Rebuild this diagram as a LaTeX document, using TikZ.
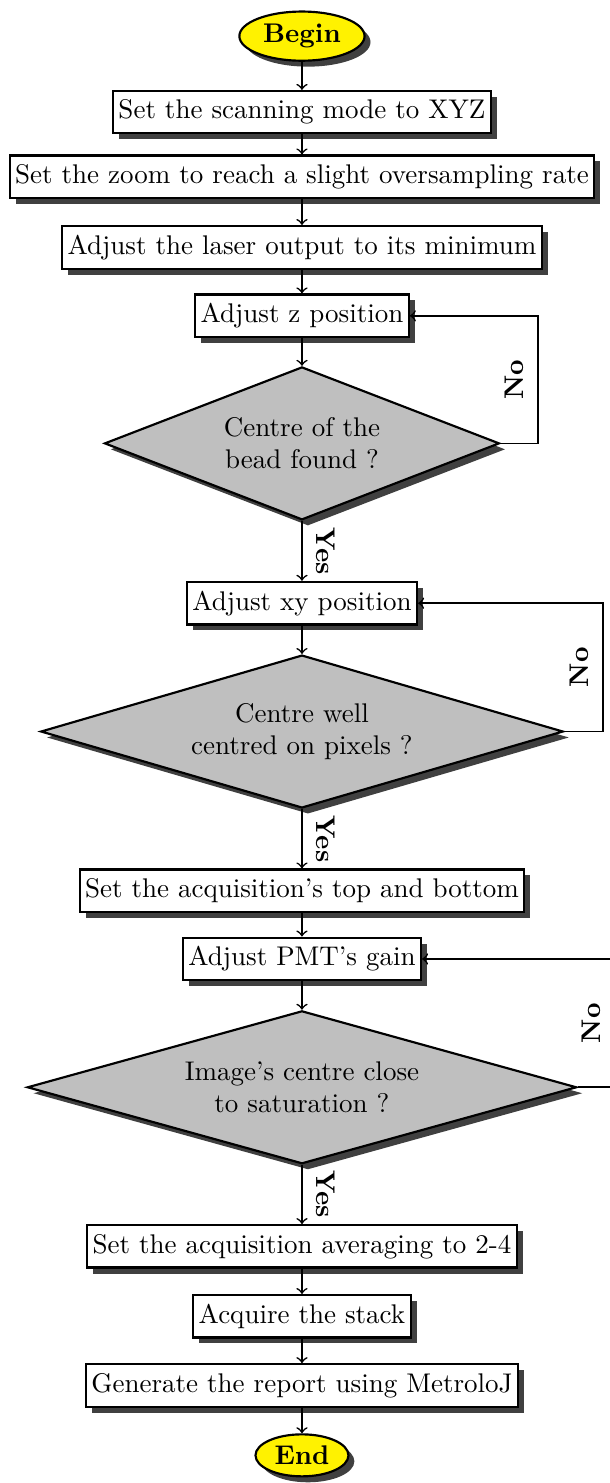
\documentclass[tikz,border=0pt]{standalone}
\usetikzlibrary{shapes.geometric,shadows}
\begin{document}
\begin{tikzpicture}[
    shade me/.style={drop shadow={shadow xshift=2.2pt,shadow yshift=-2.2pt,fill=black!75,opacity=1}},
    procbox/.style={draw,thick,rectangle,fill=white,inner xsep=2pt,inner ysep=3.3pt,shade me},
    decision/.style={draw,thick,diamond,fill=black!25,align=center,inner sep=0pt,shape aspect=3,minimum height=1.99cm,shade me},
    terminal/.style={draw,thick,ellipse,fill=yellow,inner sep=2pt,font=\bfseries,shade me},
    flow/.style={->,semithick},
    nolabel/.style={font=\bfseries,rotate=90,anchor=south,inner sep=5pt},
    yeslabel/.style={font=\bfseries,rotate=-90,anchor=south,inner sep=5pt}]
          \useasboundingbox (-3.93,0) rectangle (4.00,-19.30);
          % start
          \node [terminal] (begin) at (0,-.47) {Begin};
          \node [procbox] (mode) at (0,-1.46) {Set the scanning mode to XYZ};
          \node [procbox] (zoom) at (0,-2.30) {Set the zoom to reach a slight oversampling rate};
          \node [procbox] (laser) at (0,-3.22) {Adjust the laser output to its minimum};
          % z loop
          \node [procbox] (zpos) at (0,-4.11) {Adjust z position};
          \node [decision,minimum width=5.14cm] (bead) at (0,-5.77) {Centre of the\\bead found ?};
          % xy loop
          \node [procbox] (xypos) at (0,-7.85) {Adjust xy position};
          \node [decision,minimum width=6.80cm] (pixels) at (0,-9.52) {Centre well\\centred on pixels ?};
          % gain loop
          \node [procbox] (topbot) at (0,-11.59) {Set the acquisition's top and bottom};
          \node [procbox] (gain) at (0,-12.48) {Adjust PMT's gain};
          \node [decision,minimum width=7.15cm] (satur) at (0,-14.15) {Image's centre close\\to saturation ?};
          % end
          \node [procbox] (avg) at (0,-16.22) {Set the acquisition averaging to 2-4};
          \node [procbox] (stack) at (0,-17.13) {Acquire the stack};
          \node [procbox] (report) at (0,-18.03) {Generate the report using MetroloJ};
          \node [terminal] (end) at (0,-18.94) {End};
          \coordinate (zback) at (3.07,-5.77);
          \coordinate (xyback) at (3.92,-9.52);
          \coordinate (gainback) at (4.07,-14.15);
          \draw [flow] (begin) -- (mode);
          \draw [flow] (mode) -- (zoom);
          \draw [flow] (zoom) -- (laser);
          \draw [flow] (laser) -- (zpos);
          \draw [flow] (zpos) -- (bead);
          \draw [flow] (bead.east) -- (zback) |- node [nolabel,pos=.25] {No} (zpos.east);
          \draw [flow] (bead) -- node [yeslabel] {Yes} (xypos);
          \draw [flow] (xypos) -- (pixels);
          \draw [flow] (pixels.east) -- (xyback) |- node [nolabel,pos=.25] {No} (xypos.east);
          \draw [flow] (pixels) -- node [yeslabel] {Yes} (topbot);
          \draw [flow] (topbot) -- (gain);
          \draw [flow] (gain) -- (satur);
          \draw [flow] (satur.east) -- (gainback) |- node [nolabel,pos=.25] {No} (gain.east);
          \draw [flow] (satur) -- node [yeslabel] {Yes} (avg);
          \draw [flow] (avg) -- (stack);
          \draw [flow] (stack) -- (report);
          \draw [flow] (report) -- (end);
        \end{tikzpicture}
\end{document}
